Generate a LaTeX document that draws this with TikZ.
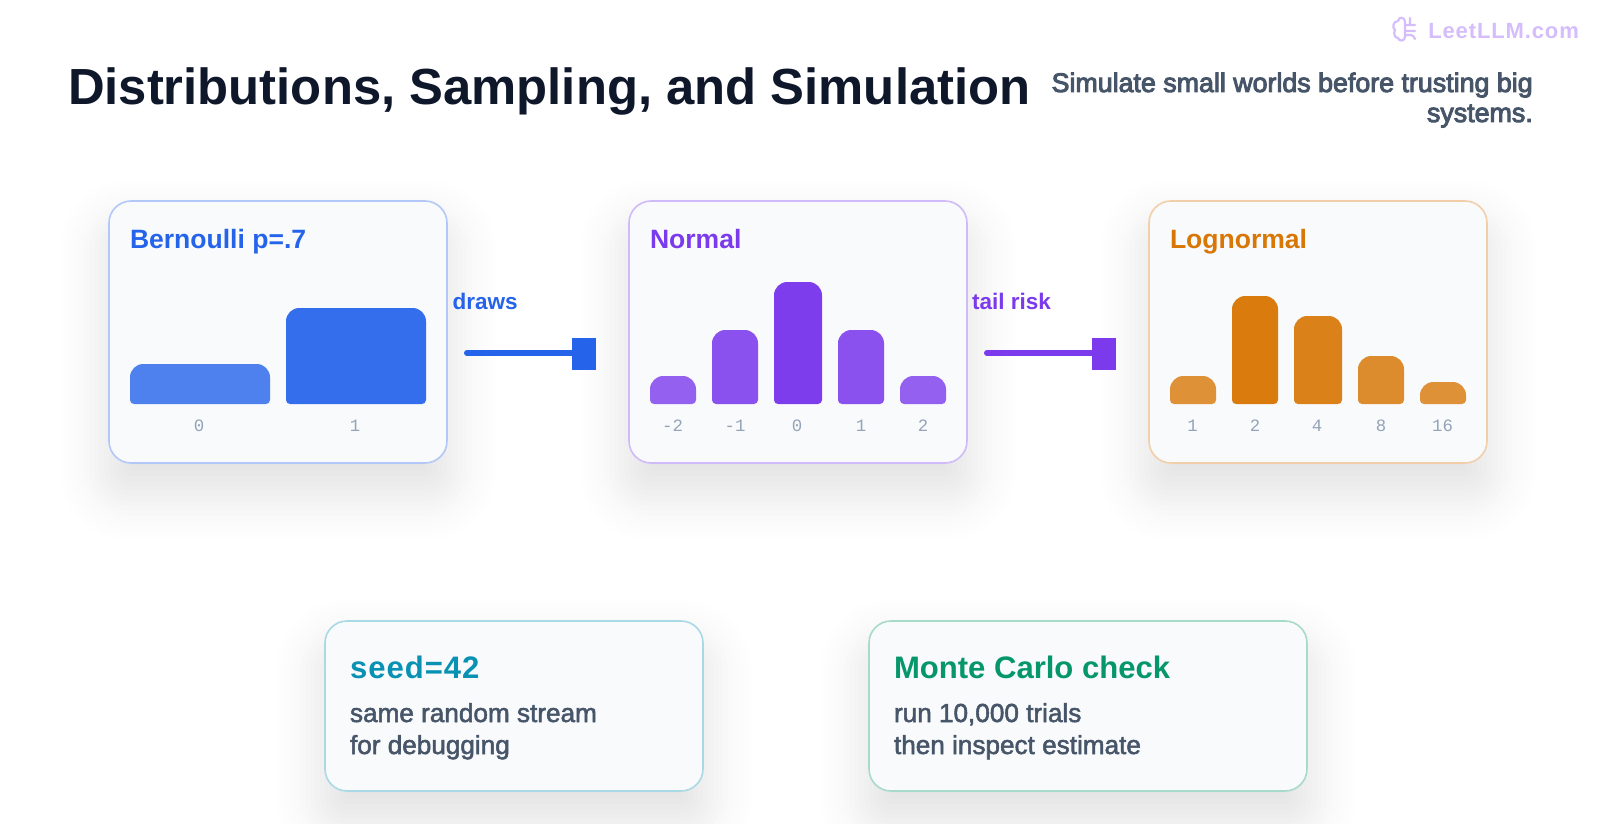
\documentclass[tikz,border=0pt]{standalone}
\usepackage{fontspec}
\setmainfont{Liberation Sans}
\newfontfamily\fbold{Liberation Sans Bold}
\newfontfamily\fmed[FakeBold=2]{Liberation Sans}
\newfontfamily\fsemi[FakeBold=3.5]{Liberation Sans}
\newfontfamily\fmono{Liberation Mono}
\newfontfamily\flogo[LetterSpace=4]{Liberation Sans Bold}
\newfontfamily\fseed[LetterSpace=3.2]{Liberation Sans Bold}
\definecolor{cblue}{HTML}{2563EB}
\definecolor{cpurple}{HTML}{7C3AED}
\definecolor{corange}{HTML}{D97706}
\definecolor{cteal}{HTML}{0891B2}
\definecolor{cgreen}{HTML}{059669}
\definecolor{cink}{HTML}{0F172A}
\definecolor{cslate}{HTML}{475569}
\definecolor{cmute}{HTML}{94A3B8}
\definecolor{ccard}{HTML}{F8FAFC}
\definecolor{clogo}{HTML}{D5BDFC}
\definecolor{cshade}{HTML}{1A1A2E}
\newcommand{\pxs}[2]{\fontsize{#1pt}{#2pt}\selectfont}
\newcommand{\softshadow}[4]{%
  \foreach \d in {-85,-80,...,85}{%
    \pgfmathsetmacro\aval{0.0081*exp(-(\d*\d)/(2*1024))}%
    \pgfmathsetmacro\rval{max(22+\d,1)*0.75}%
    \fill[cshade,opacity=\aval,rounded corners=\rval pt]
      (#1-\d,#2+28-\d) rectangle (#3+\d,#4+28+\d);
  }}
\newcommand{\chartbar}[5]{%
  \fill[#4,opacity=#5] [rounded corners=3pt] (#1+10,404) -- (#1,404)
    [rounded corners=10pt] -- (#1,#3) -- (#2,#3)
    [rounded corners=3pt] -- (#2,404) -- cycle;}
\tikzset{
  card/.style={rectangle,rounded corners=16.5pt,fill=ccard,line width=1.2pt,inner sep=0pt},
  bigcard/.style={card,minimum width=253.5pt,minimum height=196.5pt},
  lowcard/.style={card,minimum height=127.5pt},
  base west/.style={anchor=base west,inner sep=0pt,outer sep=0pt},
  head/.style={base west,font=\fbold\pxs{19.9}{24}},
  tick/.style={anchor=center,inner sep=0pt,text=cmute,font=\fmono\pxs{13}{15}},
  edgelabel/.style={base west,font=\fbold\pxs{16.9}{20}},
  sq/.style={rectangle,inner sep=0pt,minimum width=18pt,minimum height=24pt},
  lowhead/.style={base west,font=\fbold\pxs{23.3}{27}},
  lowbody/.style={base west,text=cslate,font=\fmed\pxs{19.6}{24}}
}
\begin{document}
\begin{tikzpicture}[x=0.75pt,y=-0.75pt]
\useasboundingbox (0,0) rectangle (1600,824);
\clip (0,0) rectangle (1600,824);
\fill[white] (0,0) rectangle (1600,824);
% shadows
\softshadow{109}{201}{447}{463}
\softshadow{629}{201}{967}{463}
\softshadow{1149}{201}{1487}{463}
\softshadow{325}{621}{703}{791}
\softshadow{869}{621}{1307}{791}
% title
\node[base west,text=cink,font=\fbold\pxs{38.1}{46}] (title) at (68,104) {Distributions, Sampling, and Simulation};
\node[anchor=base east,inner sep=0pt,text=cslate,font=\fsemi\pxs{20.1}{22.5},align=right] (subtitle) at (1533,122) {Simulate small worlds before trusting big\\systems.};
% logo
\node[anchor=base west,inner sep=0pt,text=clogo,font=\flogo\pxs{16.5}{20}] (logo) at (1428,38.5) {LeetLLM.com};
\draw[clogo,line width=1.6pt,line cap=round,line join=round]
  (1405,22) .. controls (1405,17) and (1399,16) .. (1398,21)
  .. controls (1393,21) and (1392,28) .. (1395,30)
  .. controls (1393,34) and (1395,38) .. (1398,38)
  .. controls (1399,42) and (1405,41) .. (1405,37) -- cycle
  (1405,25) -- (1415,25) (1410,25) -- (1410,18) (1405,31) -- (1415,31)
  (1405,35) -- (1411,35) .. controls (1413,35) and (1414,37) .. (1415,39);
% cards
\node[bigcard,draw=cblue!35!white] (c1) at (278,332) {};
\node[bigcard,draw=cpurple!35!white] (c2) at (798,332) {};
\node[bigcard,draw=corange!35!white] (c3) at (1318,332) {};
\node[head,text=cblue] (h1) at (130,248) {Bernoulli p=.7};
\node[head,text=cpurple] (h2) at (650,248) {Normal};
\node[head,text=corange] (h3) at (1170,248) {Lognormal};
% bars
\chartbar{130}{270}{364}{cblue}{0.8}
\chartbar{286}{426}{308}{cblue}{0.92}
\chartbar{650}{696}{376}{cpurple}{0.8}
\chartbar{712}{758}{330}{cpurple}{0.88}
\chartbar{774}{822}{282}{cpurple}{0.98}
\chartbar{838}{884}{330}{cpurple}{0.88}
\chartbar{900}{946}{376}{cpurple}{0.8}
\chartbar{1170}{1216}{376}{corange}{0.8}
\chartbar{1232}{1278}{296}{corange}{0.97}
\chartbar{1294}{1342}{316}{corange}{0.92}
\chartbar{1358}{1404}{356}{corange}{0.84}
\chartbar{1420}{1466}{382}{corange}{0.8}
% ticks
\node[tick] (t10) at (199,426) {0};
\node[tick] (t11) at (355,426) {1};
\node[tick] (t20) at (672.5,426) {-2};
\node[tick] (t21) at (735,426) {-1};
\node[tick] (t22) at (797,426) {0};
\node[tick] (t23) at (861,426) {1};
\node[tick] (t24) at (923,426) {2};
\node[tick] (t30) at (1192.5,426) {1};
\node[tick] (t31) at (1255,426) {2};
\node[tick] (t32) at (1317,426) {4};
\node[tick] (t33) at (1381,426) {8};
\node[tick] (t34) at (1442.5,426) {16};
% connectors
\node[edgelabel,text=cblue] (l1) at (452.5,309) {draws};
\node[edgelabel,text=cpurple] (l2) at (972,309) {tail risk};
\node[sq,fill=cblue] (s1) at (584,354) {};
\node[sq,fill=cpurple] (s2) at (1104,354) {};
\coordinate (a1) at (467,353);
\coordinate (a2) at (987,353);
\draw[cblue,line width=4.5pt,line cap=round] (a1) -- (a1 -| s1.west);
\draw[cpurple,line width=4.5pt,line cap=round] (a2) -- (a2 -| s2.west);
% lower cards
\node[lowcard,minimum width=283.5pt,draw=cteal!35!white] (c4) at (514,706) {};
\node[lowcard,minimum width=328.5pt,draw=cgreen!35!white] (c5) at (1088,706) {};
\node[base west,text=cteal,font=\fseed\pxs{23.3}{27}] (h4) at (350,678) {seed=42};
\node[base west,text=cgreen,font=\fbold\pxs{23.3}{27}] (h5) at (894,678) {Monte Carlo check};
\node[lowbody] (b41) at (350,722) {same random stream};
\node[lowbody] (b42) at (350,754) {for debugging};
\node[lowbody] (b51) at (894,722) {run 10,000 trials};
\node[lowbody] (b52) at (894,754) {then inspect estimate};
\end{tikzpicture}
\end{document}
